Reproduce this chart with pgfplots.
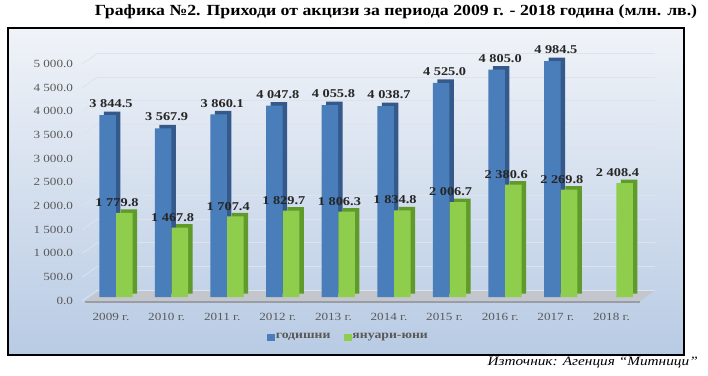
\documentclass[border=0pt]{standalone}
\usepackage{pgfplots}
\pgfplotsset{compat=1.18}
\usepackage{fontspec}
\setmainfont{Liberation Serif}
\newfontfamily\chartfont[FakeStretch=1.2]{Liberation Serif}
\newfontfamily\titlefont[FakeStretch=1.15]{Liberation Serif}
\definecolor{blueF}{HTML}{4A7EBB}
\definecolor{blueS}{HTML}{34598A}
\definecolor{greenF}{HTML}{8FCE4C}
\definecolor{greenS}{HTML}{5F9A2A}
\definecolor{bgTop}{HTML}{F0F3F8}
\definecolor{bgBot}{HTML}{B8CBE4}
\definecolor{gridc}{HTML}{DCE3EC}
\definecolor{tickc}{HTML}{595959}
\definecolor{floorT}{HTML}{C3C7CD}
\definecolor{floorF}{HTML}{9A9EA4}
\begin{document}
\begin{tikzpicture}[x=1bp,y=1bp]
\useasboundingbox (0,0) rectangle (708,375);
% background frame
\shade[top color=bgTop, bottom color=bgBot] (8,20) rectangle (684,347);
% title
\node[font=\titlefont\bfseries\fontsize{15.5}{18}\selectfont, anchor=center] at (396,363) {Графика №2. Приходи от акцизи за периода 2009 г. - 2018 година (млн. лв.)};
% source
\node[font=\chartfont\itshape\fontsize{12.8}{15}\selectfont, anchor=east, inner sep=0pt] at (698,12) {Източник: Агенция “Митници”};
% back-wall grid
\begin{axis}[
  scale only axis, width=558bp, height=236.7bp,
  at={(97.2bp,84.8bp)}, anchor=south west,
  xmin=-0.5, xmax=9.5, ymin=0, ymax=5000,
  ytick={0,500,...,5000}, xtick=\empty,
  yticklabels={}, ymajorgrids,
  major grid style={draw=gridc, line width=0.8bp},
  axis line style={draw=none}, major tick style={draw=none},
  clip=false,
]
\addplot[draw=none] coordinates {(0,0)};
\pgfplotsinvokeforeach{0,500,...,5000}{
  \draw[gridc, line width=0.8bp] (axis cs:-0.5,#1) -- ++(-15bp,-10.5bp);
}
\end{axis}
% floor
\fill[floorT] (85,74) -- (640,74) -- (654,84) -- (99,84) -- cycle;
\fill[floorF] (85,72) rectangle (640,74.5);
% main axis
\begin{axis}[
  scale only axis, width=556bp, height=236.7bp,
  at={(83.2bp,77.8bp)}, anchor=south west,
  xmin=-0.5, xmax=9.5, ymin=0, ymax=5000,
  axis line style={draw=none}, major tick style={draw=none},
  ytick={0,500,...,5000},
  xtick={0,...,9},
  xticklabels={2009 г.,2010 г.,2011 г.,2012 г.,2013 г.,2014 г.,2015 г.,2016 г.,2017 г.,2018 г.},
  /pgf/number format/assume math mode=true,
  yticklabel={\pgfmathprintnumber[fixed,fixed zerofill,precision=1,1000 sep={\ }]{\tick}},
  yticklabel style={anchor=east, inner sep=0pt, xshift=-10bp, yshift=-3.5bp, font=\chartfont\fontsize{11}{13}\selectfont, text=tickc},
  xticklabel style={anchor=center, inner sep=0pt, yshift=-19.8bp, font=\chartfont\fontsize{11}{13}\selectfont, text=tickc},
  clip=false,
  legend style={at={(0.477,-0.168)}, anchor=center, draw=none, fill=none, legend columns=2,
    font=\chartfont\bfseries\fontsize{11.5}{13}\selectfont, text=tickc,
    nodes={inner sep=1.5bp},
    /tikz/every even column/.append style={column sep=12bp}},
  nodes near coords style={font=\chartfont\bfseries\fontsize{12}{14}\selectfont, text=black!85, inner sep=1bp,
    /pgf/number format/fixed, /pgf/number format/fixed zerofill, /pgf/number format/precision=1,
    /pgf/number format/1000 sep={\ }, /pgf/number format/assume math mode=true},
]
\addplot[ybar, bar width=16.5bp, bar shift=-3.5bp, fill=blueF, draw=none, forget plot,
  preaction={fill=blueS, transform canvas={shift={(4.5bp,3.5bp)}}},
  nodes near coords, nodes near coords style={yshift=6bp}]
coordinates {(0,3844.5) (1,3567.9) (2,3860.1) (3,4047.8) (4,4055.8) (5,4038.7) (6,4525.0) (7,4805.0) (8,4984.5)};
\addplot[ybar, bar width=16.5bp, bar shift=13.25bp, fill=greenF, draw=none, forget plot,
  preaction={fill=greenS, transform canvas={shift={(4.5bp,3.5bp)}}},
  nodes near coords, nodes near coords style={yshift=5bp, xshift=6bp}]
coordinates {(0,1779.8) (1,1467.8) (2,1707.4) (3,1829.7) (4,1806.3) (5,1834.8) (6,2006.7) (7,2380.6) (8,2269.8) (9,2408.4)};
\addlegendimage{legend image code/.code={\fill[blueF] (0bp,-3.25bp) rectangle (6.5bp,3.25bp);}}
\addlegendentry{годишни}
\addlegendimage{legend image code/.code={\fill[greenF] (0bp,-3.25bp) rectangle (6.5bp,3.25bp);}}
\addlegendentry{януари-юни}
\end{axis}
% frame
\draw[black, line width=2bp] (8,20) rectangle (684,347);
\end{tikzpicture}
\end{document}
